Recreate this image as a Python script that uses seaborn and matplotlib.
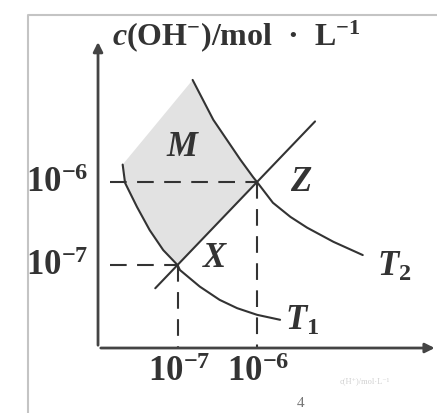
import numpy as np
import pandas as pd
import matplotlib
matplotlib.use("Agg")
import matplotlib.pyplot as plt
import seaborn as sns

# Schematic positions: 10^-7 sits at 1 and 10^-6 at 2 on both axes
tick_pos = [1, 2]
tick_labels = [r"$10^{-7}$", r"$10^{-6}$"]

# Isotherm T1 (Kw = 10^-14)
t1_h = [0.31, 0.34, 0.49, 0.65, 0.82, 1.00, 1.03, 1.28, 1.53, 1.75, 2.00, 2.29]
t1_oh = [2.21, 1.99, 1.70, 1.42, 1.18, 1.00, 0.94, 0.74, 0.58, 0.48, 0.40, 0.34]

# Isotherm T2 (Kw = 10^-12)
t2_h = [1.19, 1.32, 1.45, 1.62, 1.79, 1.95, 2.00, 2.20, 2.42, 2.63, 2.96, 3.33]
t2_oh = [3.23, 2.99, 2.75, 2.51, 2.27, 2.06, 2.00, 1.75, 1.58, 1.45, 1.28, 1.12]

# Neutral line c(H+) = c(OH-) through X and Z
neutral = [0.72, 2.73]

points = {"X": (1, 1), "Z": (2, 2)}

sns.set_theme(style="white")
plt.rcParams["font.family"] = ["Liberation Serif", "DejaVu Serif"]
plt.rcParams["mathtext.fontset"] = "custom"
plt.rcParams["mathtext.rm"] = "Liberation Serif:bold"
plt.rcParams["mathtext.it"] = "Liberation Serif:italic:bold"
plt.rcParams["mathtext.bf"] = "Liberation Serif:bold"

fig = plt.figure(figsize=(4.37, 4.13), dpi=100)
ax = fig.add_axes([0, 0, 1, 1])
ax.set_xlim(-1.233, 4.264)
ax.set_ylim(-0.783, 4.193)
ax.axis("off")

ink = "#333333"
lw = 1.5

# shaded region M between the two isotherms, above the neutral line
t1_left = [(h, o) for h, o in zip(t1_h, t1_oh) if h <= 1.0]
t2_left = [(h, o) for h, o in zip(t2_h, t2_oh) if h <= 2.0]
poly = t1_left + t2_left[::-1]
ax.fill([p[0] for p in poly], [p[1] for p in poly], color="#e2e2e2", zorder=1, lw=0)

df1 = pd.DataFrame({"h": t1_h, "oh": t1_oh})
df2 = pd.DataFrame({"h": t2_h, "oh": t2_oh})
dfn = pd.DataFrame({"h": neutral, "oh": neutral})
for d in (df1, df2, dfn):
    sns.lineplot(data=d, x="h", y="oh", sort=False, ax=ax, color=ink, lw=lw,
                 zorder=3, solid_joinstyle="round")
ax.set_xlabel("")
ax.set_ylabel("")

# dashed guide lines to the axes
dash = dict(color=ink, lw=1.5, dashes=(8, 5), zorder=2)
for name, (px, py) in points.items():
    ax.plot([0.15, px], [py, py], **dash)
    ax.plot([px, px], [py, 0], **dash)

# axes with arrows
ax.annotate("", xy=(0, 3.72), xytext=(0, 0),
            arrowprops=dict(arrowstyle="-|>", color="#444", lw=2, mutation_scale=14))
ax.annotate("", xy=(4.27, 0), xytext=(0, 0),
            arrowprops=dict(arrowstyle="-|>", color="#444", lw=2, mutation_scale=14))

# outer frame
ax.plot([0.064, 0.064, 1.0], [0.0, 0.9637, 0.9637], transform=ax.transAxes,
        color="#c4c4c4", lw=1.5, clip_on=False)

fs = 25
ax.text(0.176, 3.76, r"$c$(OH$^{-}$)/mol  ·  L$^{-1}$", fontsize=23,
        fontweight="bold", ha="left", va="center", color=ink)
for pos, lab in zip(tick_pos, tick_labels):
    ax.text(pos + 0.02, -0.30, lab, fontsize=fs, ha="center", va="center", color=ink)
    ax.text(-0.90, pos - 0.02, lab, fontsize=fs, ha="left", va="center", color=ink)

ax.text(1.07, 2.42, r"$M$", fontsize=fs, ha="center", va="center", color=ink)
ax.text(1.48, 1.08, r"$X$", fontsize=fs, ha="center", va="center", color=ink)
ax.text(2.55, 2.00, r"$Z$", fontsize=fs, ha="center", va="center", color=ink)
ax.text(3.72, 0.97, r"$T_2$", fontsize=fs, ha="center", va="center", color=ink)
ax.text(2.57, 0.32, r"$T_1$", fontsize=fs, ha="center", va="center", color=ink)

# faint caption remnants below the axis
ax.text(3.35, -0.40, r"c(H⁺)/mol·L⁻¹", fontsize=6, ha="center", va="center",
        color="#d0d0d0")
ax.text(2.55, -0.67, "4", fontsize=11, ha="center", va="center", color="#777")

fig.savefig("out.png", dpi=100)
